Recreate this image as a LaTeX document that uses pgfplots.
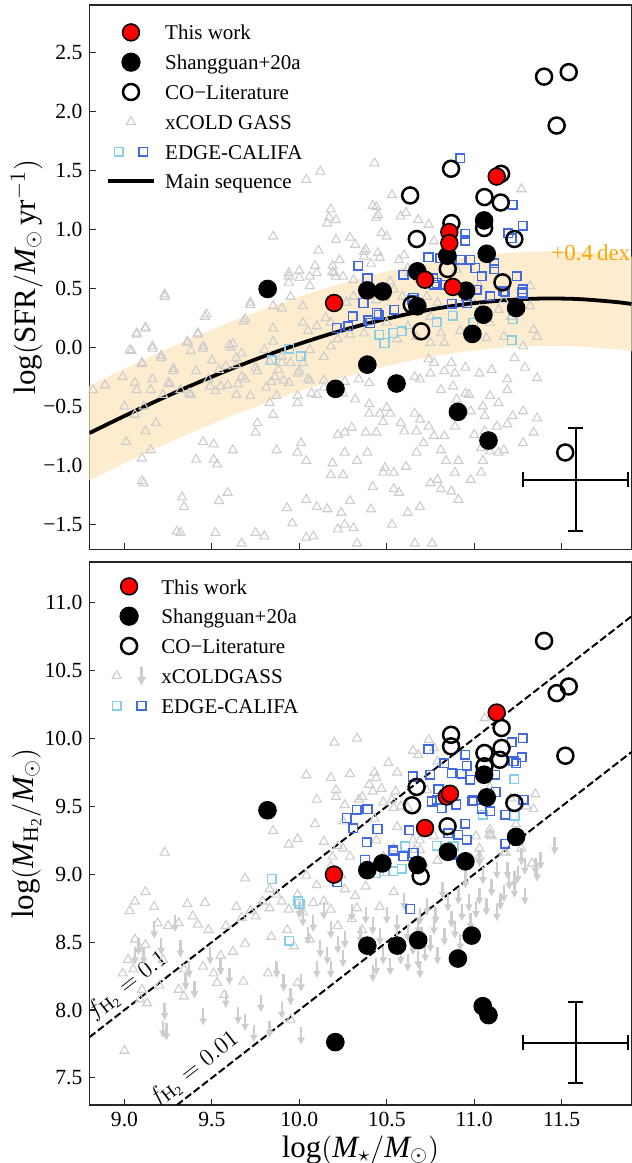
\documentclass[border=0pt]{standalone}
\usepackage{fontspec}
\setmainfont{Liberation Serif}
\usepackage{pgfplots}
\pgfplotsset{compat=1.18}

\definecolor{tri}{RGB}{205,205,205}
\definecolor{skyb}{RGB}{135,206,235}
\definecolor{royb}{RGB}{65,105,225}
\definecolor{bandc}{RGB}{254,236,206}
\definecolor{orng}{RGB}{255,165,0}

\pgfdeclareplotmark{darrow}{%
  \pgfsetlinewidth{1.2pt}%
  \pgfpathmoveto{\pgfqpoint{0pt}{4.2pt}}%
  \pgfpathlineto{\pgfqpoint{0pt}{-1.6pt}}%
  \pgfusepathqstroke
  \pgfpathmoveto{\pgfqpoint{-1.9pt}{-0.8pt}}%
  \pgfpathlineto{\pgfqpoint{0pt}{-4.4pt}}%
  \pgfpathlineto{\pgfqpoint{1.9pt}{-0.8pt}}%
  \pgfpathclose
  \pgfusepathqfill
}

\pgfplotsset{
  myaxis/.style={
    scale only axis, width=271pt,
    xmin=8.8, xmax=11.9,
    axis line style={line width=0.6pt, black!85},
    every tick/.style={line width=0.6pt, black!85},
    tick align=inside, tick pos=left,
    major tick length=3pt,
    xtick={9,9.5,10,10.5,11,11.5},
    tick label style={font=\fontsize{10.8}{13}\selectfont},
    label style={font=\fontsize{15.5}{18}\selectfont},
    ylabel style={at={(axis description cs:-0.1159,0.5)}, anchor=center},
    legend style={draw=none, fill=none, at={(axis description cs:0,1)}, anchor=north west,
      xshift=5pt, font=\fontsize{10.5}{13}\selectfont, row sep=0.3pt,
      /tikz/every odd column/.append style={column sep=2.5pt}},
    legend cell align=left,
  },
  tri/.style={only marks, mark=triangle, mark size=2.6pt, mark options={draw=tri, fill=none, line width=0.55pt}, forget plot},
  sqa/.style={only marks, mark=square, mark size=2.15pt, mark options={draw=#1, fill=none, line width=0.75pt}, forget plot},
  blk/.style={only marks, mark=*, mark size=4.4pt, mark options={draw=black, fill=black, line width=0.5pt}, forget plot},
  opn/.style={only marks, mark=o, mark size=4.0pt, mark options={draw=black, line width=1.25pt}, forget plot},
  red/.style={only marks, mark=*, mark size=4.2pt, mark options={draw=black, fill=red, line width=0.8pt}, forget plot},
  ebar/.style={draw=none, mark=none, forget plot,
    error bars/.cd, x dir=both, x explicit, y dir=both, y explicit,
    error bar style={line width=1pt, draw=black},
    error mark options={rotate=90, mark size=3.6pt, line width=1pt, draw=black}},
}

\newcommand{\legbox}{\path[draw=none, fill=none] (0pt,-4.5pt) rectangle (23.25pt,4.5pt);}

\begin{document}
\begin{tikzpicture}
%================ TOP PANEL =================
\begin{axis}[myaxis, at={(44.75pt,306.85pt)}, anchor=south west, height=272.15pt,
  ymin=-1.71, ymax=2.9,
  ytick={-1.5,-1,-0.5,0,0.5,1,1.5,2,2.5},
  yticklabels={−1.5,−1.0,−0.5,0.0,0.5,1.0,1.5,2.0,2.5},
  xticklabels={},
  ylabel={$\log(\mathrm{SFR}/\mathit{M}_\odot\,\mathrm{yr}^{-1})$},
  legend style={yshift=-4.2pt},
]
\addlegendimage{legend image code/.code={\legbox\draw[black, fill=red, line width=0.8pt] (11.6pt,0pt) circle (4.2pt);}}
\addlegendentry{\strut This work}
\addlegendimage{legend image code/.code={\legbox\fill[black] (11.6pt,0pt) circle (4.6pt);}}
\addlegendentry{\strut Shangguan+20a}
\addlegendimage{legend image code/.code={\legbox\draw[black, line width=1.25pt] (11.6pt,0pt) circle (4.0pt);}}
\addlegendentry{\strut CO−Literature}
\addlegendimage{legend image code/.code={\legbox\draw[tri, line width=0.55pt] (11.6pt,0pt) +(90:2.6pt) -- +(210:2.6pt) -- +(330:2.6pt) -- cycle;}}
\addlegendentry{\strut xCOLD GASS}
\addlegendimage{legend image code/.code={\legbox\draw[skyb, line width=0.75pt] (3.25pt,-2.15pt) rectangle (7.55pt,2.15pt);\draw[royb, line width=0.75pt] (15.65pt,-2.15pt) rectangle (19.95pt,2.15pt);}}
\addlegendentry{\strut EDGE-CALIFA}
\addlegendimage{legend image code/.code={\legbox\draw[black, line width=1.9pt] (0pt,0pt) -- (23.25pt,0pt);}}
\addlegendentry{\strut Main sequence}

% +/-0.4 dex band around the main sequence
\addplot[fill=bandc, draw=none, forget plot] coordinates {
(8.8,-0.325) (9.0,-0.181) (9.2,-0.042) (9.4,0.089) (9.6,0.212) (9.8,0.326) (10.0,0.430) (10.2,0.524) (10.4,0.606) (10.6,0.676) (10.8,0.733) (11.0,0.775) (11.2,0.802) (11.4,0.814) (11.6,0.809) (11.8,0.786) (11.9,0.768)
(11.9,-0.032) (11.8,-0.014) (11.6,0.009) (11.4,0.014) (11.2,0.002) (11.0,-0.025) (10.8,-0.067) (10.6,-0.124) (10.4,-0.194) (10.2,-0.276) (10.0,-0.370) (9.8,-0.474) (9.6,-0.588) (9.4,-0.711) (9.2,-0.842) (9.0,-0.981) (8.8,-1.125)
} -- cycle;

% xCOLD GASS
\addplot[tri] coordinates {
(10.43,1.56) (10.12,1.49) (10.04,1.42) (10.53,1.29) (11.27,1.34) (10.42,1.20) (10.44,1.19) (10.18,1.17) (10.17,1.10) (10.61,1.14) (10.45,1.12) (10.68,1.08) (10.74,1.04) (10.16,1.05) (10.47,0.97) (10.50,0.94) (9.85,0.94) (10.21,0.91) (10.32,0.87) (10.11,0.82) (10.77,0.90) (10.37,0.81) (10.45,0.80) (10.60,0.78) (10.09,0.69) (10.19,0.69) (9.94,0.63) (10.00,0.65) (10.06,0.60) (9.94,0.60)
(10.44,1.10) (10.58,1.11) (10.21,1.08) (10.29,0.93) (10.38,0.83) (10.37,0.77) (10.46,0.76) (10.41,0.71) (10.57,0.74) (10.62,0.67) (10.23,0.74) (10.20,0.63) (10.25,0.60) (10.31,0.57) (10.52,0.56) (10.69,0.57) (10.59,0.43) (10.44,0.40) (10.49,0.42) (10.98,0.42) (11.03,0.52) (11.17,0.40) (11.32,0.52) (11.32,0.35) (11.21,0.26) (11.09,0.21) (11.34,0.15) (11.36,0.09) (11.28,0.01) (11.17,0.09) (11.07,0.08) (10.92,0.14) (10.81,0.12) (10.83,0.04) (10.75,0.04) (10.67,0.09) (10.56,0.07) (10.62,0.18) (10.50,0.21) (10.37,0.12) (10.29,0.11) (10.22,0.07) (10.18,0.21) (10.20,0.35) (10.27,0.38) (10.31,0.43) (10.54,0.49) (10.90,0.66) (10.63,0.63) (10.73,0.43) (10.79,0.38) (10.75,0.26) (11.03,0.32) (11.14,0.32)
(10.10,0.63) (10.19,0.64) (10.21,0.60) (9.94,0.55) (10.00,0.59) (10.06,0.52) (9.95,0.43) (9.72,0.36) (9.85,0.35) (9.90,0.33) (10.02,0.35) (9.23,0.43) (9.46,0.26) (9.68,0.22) (9.85,0.16) (9.12,0.16) (9.07,0.11) (9.42,0.11) (9.03,-0.02) (9.16,-0.01) (9.36,0.04) (9.45,0.01) (9.60,0.02) (9.62,0.03) (9.10,-0.13) (9.21,-0.07) (9.38,-0.03) (9.67,-0.05) (9.80,-0.02) (9.90,-0.08) (9.95,-0.13) (10.06,-0.02) (10.14,-0.08) (10.18,0.01) (10.05,0.14) (10.10,0.18) (10.15,0.25) (10.02,0.21) (9.28,-0.20) (9.41,-0.20) (9.54,-0.19) (9.64,-0.15) (9.76,-0.20) (9.88,-0.19) (10.00,-0.20) (8.89,-0.32) (8.99,-0.25) (9.16,-0.27) (9.25,-0.30) (9.48,-0.27) (9.59,-0.32) (9.69,-0.27) (9.81,-0.34) (9.94,-0.30) (10.05,-0.27) (10.14,-0.34) (10.21,-0.32) (8.82,-0.36) (9.07,-0.36) (9.38,-0.40) (9.52,-0.37) (9.64,-0.40) (9.87,-0.41) (10.10,-0.40)
(9.23,0.45) (9.47,0.28) (9.72,0.38) (9.69,0.24) (9.61,0.00) (9.85,0.05) (9.90,-0.13) (9.07,0.12) (9.12,0.17) (9.04,-0.03) (9.10,-0.14) (9.16,0.01) (9.21,-0.09) (9.28,-0.18) (9.36,0.05) (9.42,0.12) (9.45,-0.01) (9.50,-0.11) (9.58,-0.16) (9.64,-0.09) (9.67,-0.25) (9.75,-0.17) (9.83,-0.12) (9.86,-0.25) (9.91,-0.28) (9.99,-0.22) (10.02,-0.13) (10.06,-0.28) (10.14,-0.28) (9.06,-0.30) (9.26,-0.31) (9.49,-0.33) (9.55,-0.33) (9.65,-0.31) (9.84,-0.29)
(9.15,-0.36) (9.22,-0.40) (9.32,-0.36) (9.37,-0.39) (9.72,-0.41) (9.99,-0.41) (10.07,-0.39) (10.20,-0.37)
(9.00,-0.50) (9.06,-0.57) (9.11,-0.50) (9.18,-0.64) (9.01,-0.80) (9.12,-0.71) (9.15,-0.87) (9.10,-0.94) (9.10,-1.13) (9.11,-1.15) (9.33,-1.27) (9.34,-1.35) (9.30,-1.56) (9.32,-1.57) (9.54,-1.30) (9.59,-1.23) (9.41,-0.95) (9.51,-0.95) (9.53,-0.99) (9.45,-0.80) (9.51,-0.82) (9.62,-0.87) (9.75,-0.72) (9.76,-0.64) (9.85,-0.57) (9.87,-0.87) (9.83,-0.47) (9.99,-0.47) (10.01,-0.81) (9.99,-0.89) (10.04,-0.96) (9.93,-1.36) (9.96,-1.49) (9.52,-1.57) (9.67,-1.66) (9.75,-1.57) (9.80,-1.60) (10.04,-1.29) (10.10,-1.35) (10.04,-1.61) (10.08,-1.60) (10.16,-1.37) (10.18,-1.08) (10.25,-1.08) (10.19,-0.98) (10.26,-0.89) (10.30,-0.68) (10.38,-0.72) (10.40,-0.56) (10.22,-0.74) (10.26,-0.72) (10.33,-0.96) (10.39,-0.89) (10.44,-0.72) (10.48,-0.63) (10.52,-0.56) (10.49,-1.02) (10.48,-1.06) (10.54,-1.06) (10.42,-1.18) (10.54,-1.20) (10.57,-1.23) (10.61,-1.01) (10.67,-0.89) (10.71,-0.81) (10.67,-0.71) (10.60,-0.71) (10.58,-0.64) (10.66,-0.56) (10.69,-0.61) (10.74,-0.67) (10.77,-0.75) (10.81,-0.87) (10.84,-0.96) (10.89,-1.06) (10.91,-0.96) (10.79,-1.12) (10.75,-1.15) (10.81,-1.20) (10.87,-1.22) (10.91,-1.29) (10.69,-1.35) (10.62,-1.40) (10.53,-1.50) (10.41,-1.37) (10.29,-1.30) (10.24,-1.40) (10.26,-1.50) (10.22,-1.54) (10.31,-1.53) (10.33,-1.66) (10.76,-1.66) (10.66,-1.66) (10.98,-1.12) (11.04,-1.06) (11.05,-0.96) (11.09,-0.88) (11.14,-0.89) (11.17,-0.87) (11.04,-0.85) (11.00,-0.74) (11.06,-0.71) (11.13,-0.67) (11.19,-0.65) (11.22,-0.58) (11.28,-0.54) (11.36,-0.60) (11.34,-0.72) (11.28,-0.81) (11.06,-0.58) (10.97,-0.40) (10.95,-0.39) (11.09,-0.41) (11.14,-0.47) (11.05,-0.50) (11.19,-0.27) (11.29,-0.17) (11.36,-0.26) (11.23,-0.09) (11.19,-0.36) (11.10,-0.19) (11.03,-0.22) (10.95,-0.17) (10.89,-0.22) (10.87,-0.13) (10.83,-0.20) (10.77,-0.13) (10.74,-0.10) (10.75,-0.22) (10.69,-0.27) (10.66,-0.25) (10.88,-0.33) (10.81,-0.36) (10.90,-0.44) (10.98,-0.54) (10.89,-0.67) (10.83,-0.75) (10.26,-0.29) (10.34,-0.27) (10.32,-0.44) (10.25,-0.39) (10.40,-0.48) (10.46,-0.56) (10.50,-0.51) (10.40,-0.30)
};

% EDGE-CALIFA
\addplot[sqa=skyb] coordinates {
(11.221,0.240) (10.878,0.269) (10.786,0.212) (10.538,0.122) (10.458,0.108) (11.215,0.060) (10.996,0.207) (9.842,-0.109) (9.943,-0.013) (10.008,-0.075) (10.487,0.037) (10.586,0.136)
};
\addplot[sqa=royb] coordinates {
(10.920,1.603) (11.221,1.208) (11.278,1.030) (11.196,0.968) (11.215,0.926) (10.948,0.962) (10.948,0.905) (10.739,0.765) (10.338,0.692) (10.390,0.587) (10.596,0.615) (10.805,0.756) (10.920,0.742) (10.977,0.742) (11.006,0.672) (11.116,0.714) (11.116,0.663) (11.044,0.601) (11.244,0.601) (11.278,0.494) (11.278,0.455) (11.168,0.474) (11.091,0.432) (10.954,0.432) (10.891,0.503) (10.786,0.545) (10.767,0.587) (10.367,0.376) (10.306,0.263) (10.443,0.291) (10.542,0.319) (10.653,0.418) (10.872,0.370) (10.214,0.164) (10.281,0.178) (10.405,0.207) (11.015,0.489) (10.824,0.531) (10.395,0.229) (10.454,0.277) (10.645,0.398) (10.773,0.531) (10.960,0.376) (11.177,0.466) (11.275,0.466)
};

% main sequence
\addplot[black, line width=1.9pt, smooth, forget plot] coordinates {
(8.8,-0.725) (9.0,-0.581) (9.2,-0.442) (9.4,-0.311) (9.6,-0.188) (9.8,-0.074) (10.0,0.030) (10.2,0.124) (10.4,0.206) (10.6,0.276) (10.8,0.333) (11.0,0.375) (11.2,0.402) (11.4,0.414) (11.6,0.409) (11.8,0.386) (11.9,0.368)
};

% error bar
\addplot[ebar] coordinates {(11.58,-1.12) +- (0.3,0.435)};

\addplot[blk] coordinates {
(9.819,0.495) (10.207,-0.351) (10.389,0.483) (10.389,-0.146) (10.477,0.474) (10.556,-0.306) (10.675,0.644) (10.675,0.348) (10.847,0.776) (10.907,-0.546) (10.954,0.480) (10.990,0.114) (11.053,0.277) (11.057,1.075) (11.072,0.793) (11.082,-0.789) (11.240,0.334)
};
\addplot[opn] coordinates {
(10.634,1.287) (10.643,0.362) (10.672,0.918) (10.697,0.136) (10.849,0.664) (10.868,1.513) (10.870,1.053) (11.057,1.011) (11.059,1.273) (11.152,1.227) (11.154,1.470) (11.162,0.551) (11.230,0.918) (11.400,2.293) (11.472,1.879) (11.541,2.331) (11.521,-0.890)
};
\addplot[red] coordinates {
(10.199,0.376) (10.719,0.573) (10.858,0.977) (10.858,0.884) (10.878,0.512) (11.129,1.447)
};

\node[text=orng, anchor=east, font=\fontsize{11.5}{13}\selectfont, inner sep=0pt] at (axis cs:11.895,0.80) {+0.4\,dex};
\end{axis}

%================ BOTTOM PANEL =================
\begin{axis}[myaxis, at={(44.75pt,29pt)}, anchor=south west, height=271.5pt,
  ymin=7.3, ymax=11.3,
  ytick={7.5,8,8.5,9,9.5,10,10.5,11},
  yticklabels={7.5,8.0,8.5,9.0,9.5,10.0,10.5,11.0},
  xticklabels={9.0,9.5,10.0,10.5,11.0,11.5},
  ylabel={$\log(\mathit{M}_{\mathrm{H_2}}/\mathit{M}_\odot)$},
  xlabel={$\log(\mathit{M}_\star/\mathit{M}_\odot)$},
  xlabel style={at={(axis description cs:0.5,-0.083)}, anchor=center},
  legend style={yshift=-2.7pt},
]
\addlegendimage{legend image code/.code={\legbox\draw[black, fill=red, line width=0.8pt] (11.6pt,0pt) circle (4.2pt);}}
\addlegendentry{\strut This work}
\addlegendimage{legend image code/.code={\legbox\fill[black] (11.6pt,0pt) circle (4.6pt);}}
\addlegendentry{\strut Shangguan+20a}
\addlegendimage{legend image code/.code={\legbox\draw[black, line width=1.25pt] (11.6pt,0pt) circle (4.0pt);}}
\addlegendentry{\strut CO−Literature}
\addlegendimage{legend image code/.code={\legbox\draw[tri, line width=0.55pt] (5.4pt,0pt) +(90:2.6pt) -- +(210:2.6pt) -- +(330:2.6pt) -- cycle;
  \draw[tri, line width=1.2pt] (17.8pt,4.2pt) -- (17.8pt,-1.6pt); \fill[tri] (15.9pt,-0.8pt) -- (17.8pt,-4.4pt) -- (19.7pt,-0.8pt) -- cycle;}}
\addlegendentry{\strut xCOLDGASS}
\addlegendimage{legend image code/.code={\legbox\draw[skyb, line width=0.75pt] (3.25pt,-2.15pt) rectangle (7.55pt,2.15pt);\draw[royb, line width=0.75pt] (15.65pt,-2.15pt) rectangle (19.95pt,2.15pt);}}
\addlegendentry{\strut EDGE-CALIFA}

\addplot[tri] coordinates {
(10.20,9.97) (10.33,10.00) (10.04,9.73) (10.29,9.74) (10.18,9.71) (10.21,9.62) (10.43,9.75) (10.51,9.82) (10.56,9.75) (10.44,9.71) (10.40,9.66) (10.42,9.61) (10.36,9.57) (10.10,9.55) (10.26,9.51) (10.48,9.53) (10.54,9.49) (10.62,9.49) (10.74,9.99) (10.65,9.91) (10.68,9.88) (10.77,9.93) (11.06,10.15) (10.79,9.83) (10.55,9.61) (10.73,9.62) (11.09,9.64) (11.35,9.59) (11.34,9.48) (11.21,9.56) (9.85,9.32) (9.94,9.22) (9.99,9.26) (10.09,9.37) (10.14,9.24) (10.25,9.19) (10.54,9.19) (10.69,9.18) (11.03,9.19) (11.09,9.29) (11.27,9.19)
(10.47,9.63) (10.21,9.57) (10.34,9.55) (10.53,9.55) (10.58,9.50) (10.25,9.39) (10.43,9.41) (10.56,9.35) (11.30,9.50) (11.09,9.33) (11.10,9.28) (11.24,9.37) (10.65,9.25) (10.44,9.25) (10.22,9.21) (10.29,9.13) (10.19,9.13) (10.71,9.08) (10.79,9.10) (11.03,9.13) (11.18,9.16)
(9.23,9.16) (9.12,8.87) (9.06,8.80) (9.03,8.73) (9.17,8.76) (9.36,8.78) (9.46,8.79) (9.39,8.69) (9.25,8.62) (9.19,8.64) (9.31,8.64) (9.42,8.63) (9.48,8.59) (9.58,8.62) (9.67,8.68) (9.75,8.69) (9.64,8.76) (9.72,8.73) (9.79,8.80) (9.83,8.75) (9.90,8.80) (9.94,8.74) (9.87,8.85) (9.99,8.85) (9.69,8.97) (9.83,8.89) (10.04,8.99) (10.10,8.92) (10.18,9.06) (10.24,8.99) (10.26,8.89) (10.32,8.84) (10.08,8.79) (10.14,8.80) (10.18,8.74) (10.02,8.72) (10.22,8.62) (10.30,8.67) (10.36,8.59) (10.06,8.52) (9.93,8.59) (9.84,8.54) (9.97,8.47) (9.69,8.49) (9.62,8.43) (9.55,8.40) (9.45,8.32) (9.34,8.30) (9.22,8.37) (9.12,8.48) (9.06,8.52) (9.09,8.45) (9.02,8.37) (8.99,8.27) (9.05,8.30) (9.10,8.15) (9.09,8.08) (9.13,8.05) (9.20,8.18) (9.31,8.15) (9.34,8.10) (9.51,8.27) (9.53,8.20) (9.57,8.11) (9.68,8.21) (9.82,8.27) (9.99,8.20) (9.95,7.93) (9.00,7.70) (10.48,9.13) (10.50,9.01) (10.54,8.87) (10.38,8.91) (10.33,8.75) (10.46,8.76) (10.69,9.25) (10.66,9.18) (10.77,9.28) (11.01,9.28) (11.17,9.16) (11.33,9.08) (11.09,9.30)
};
\addplot[only marks, mark=darrow, mark options={draw=tri, fill=tri}, forget plot] coordinates {
(9.29,8.64) (9.17,8.59) (9.08,8.47) (9.06,8.40) (9.11,8.40) (9.21,8.47) (9.32,8.45) (9.37,8.30) (9.35,8.21) (9.23,7.99) (9.22,7.86) (9.24,7.84) (9.49,8.40) (9.58,8.08) (9.65,7.96) (9.69,7.91) (9.74,7.83) (9.83,7.86) (9.90,8.00) (10.01,7.81) (9.87,8.30) (9.91,8.20) (10.01,8.20) (10.10,8.30) (10.16,8.40) (10.22,8.48) (10.18,8.59) (10.26,8.52) (10.08,8.64) (10.02,8.68) (10.00,8.74) (10.14,8.73) (10.30,8.72) (10.38,8.70) (10.42,8.62) (10.46,8.54) (10.48,8.40) (10.52,8.32) (10.44,8.32) (10.58,8.40) (10.62,8.35) (10.68,8.37) (10.69,8.30) (10.72,8.42) (10.75,8.49) (10.79,8.40) (10.83,8.54) (10.77,8.62) (10.87,8.67) (10.93,8.72) (10.97,8.79) (11.03,8.84) (11.07,8.76) (11.13,8.72) (11.17,8.86) (11.23,8.89) (11.29,8.84) (11.35,9.06) (11.36,9.01) (11.29,9.06) (11.23,8.96) (11.46,9.21) (10.68,8.62) (10.62,8.57) (10.56,8.64) (10.56,8.52) (10.89,8.59) (11.01,8.74) (10.91,8.84) (10.85,8.79) (10.73,8.76) (10.69,8.69) (10.95,8.96) (11.05,8.99) (11.13,9.03) (11.19,9.03) (11.27,9.13) (11.03,9.12) (10.18,8.30) (10.42,8.27) (11.38,9.10) (9.40,8.15) (9.60,8.25)
(10.05,8.55) (10.12,8.45) (10.25,8.38) (10.35,8.55) (10.50,8.70) (10.60,8.80) (10.65,8.47) (10.78,8.70) (10.82,8.88) (10.98,8.65) (11.10,8.90) (11.15,8.80) (11.20,8.95) (11.25,9.00) (10.92,8.50) (10.70,8.55) (9.45,7.95) (9.55,8.32) (9.78,8.05) (9.95,8.10)
};

\addplot[sqa=skyb] coordinates {
(11.229,9.701) (11.049,9.438) (11.231,9.431) (10.605,9.205) (10.786,9.210) (10.882,9.205) (9.843,8.965) (9.995,8.801) (10.001,8.783) (9.942,8.511) (10.537,9.021) (10.586,9.039) (10.438,9.009)
};
\addplot[sqa=royb] coordinates {
(10.739,9.921) (10.830,9.818) (10.948,9.880) (10.958,9.799) (10.872,9.745) (10.929,9.740) (10.977,9.696) (10.748,9.733) (10.649,9.720) (10.796,9.627) (10.786,9.549) (10.758,9.536) (10.815,9.487) (10.897,9.514) (10.996,9.544) (11.044,9.484) (11.091,9.463) (11.177,9.438) (11.282,9.549) (11.215,9.971) (11.278,10.002) (11.225,9.831) (11.272,9.863) (11.240,9.818) (11.120,9.733) (10.271,9.414) (10.329,9.475) (10.390,9.480) (10.309,9.340) (10.447,9.333) (10.386,9.235) (10.628,9.323) (10.853,9.303) (10.948,9.372) (10.958,9.254) (10.910,9.291) (11.177,9.225) (10.538,9.181) (10.596,9.132) (10.653,9.156) (10.376,9.107) (10.217,8.940) (10.635,8.744) (10.537,9.169) (10.872,9.144) (11.124,9.606) (10.990,9.537)
};

% f_H2 lines
\addplot[black, line width=1pt, dash pattern=on 3.7pt off 1.6pt, forget plot] coordinates {(8.8,7.8) (11.9,10.9)};
\addplot[black, line width=1pt, dash pattern=on 3.7pt off 1.6pt, forget plot] coordinates {(9.3,7.3) (11.9,9.9)};
\node[rotate=37.8, anchor=south, inner sep=2.5pt, font=\fontsize{13}{15}\selectfont] at (axis cs:9.08,8.08) {$f_{\mathrm{H_2}}=0.1$};
\node[rotate=37.8, anchor=south, inner sep=2.5pt, font=\fontsize{13}{15}\selectfont] at (axis cs:9.46,7.46) {$f_{\mathrm{H_2}}=0.01$};

% error bar
\addplot[ebar] coordinates {(11.58,7.76) +- (0.3,0.30)};

\addplot[blk] coordinates {
(9.818,9.471) (11.057,9.733) (11.072,9.566) (11.240,9.275) (10.850,9.165) (10.950,9.095) (10.676,9.068) (10.475,9.080) (10.389,9.030) (10.389,8.474) (10.560,8.474) (10.680,8.514) (10.986,8.548) (10.907,8.379) (11.049,8.028) (11.082,7.962) (10.206,7.763)
};
\addplot[opn] coordinates {
(11.400,10.719) (11.472,10.334) (11.541,10.383) (11.522,9.873) (10.868,10.027) (10.868,9.942) (11.157,10.077) (11.059,9.893) (11.157,9.930) (11.059,9.795) (11.147,9.843) (10.671,9.643) (10.645,9.508) (11.230,9.525) (10.848,9.353) (10.694,8.985)
};
\addplot[red] coordinates {
(10.198,8.997) (10.719,9.340) (10.843,9.573) (10.862,9.593) (11.129,10.191)
};
\end{axis}
\pgfresetboundingbox
\path[use as bounding box] (0pt,0pt) rectangle (316pt,581.5pt);
\end{tikzpicture}
\end{document}
